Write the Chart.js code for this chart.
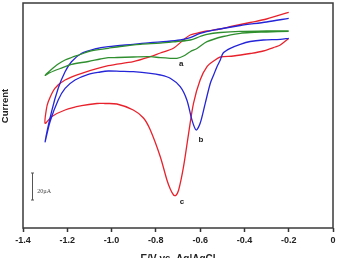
<!DOCTYPE html>
<html><head><meta charset="utf-8">
<script src="https://cdn.jsdelivr.net/npm/chart.js@4.4.1/dist/chart.umd.min.js"></script>
<style>html,body{margin:0;padding:0;background:#fff;overflow:hidden}canvas{display:block}</style>
</head><body>
<canvas id="c" width="343" height="258"></canvas>
<script>
// x axis ticks
const xTickValues = [-1.4, -1.2, -1.0, -0.8, -0.6, -0.4, -0.2, 0];
const xTickLabels = ['-1.4', '-1.2', '-1.0', '-0.8', '-0.6', '-0.4', '-0.2', '0'];

// curve a (green): potential (V) and current (arbitrary units, 20 µA ≈ 27 units)
const curveA_E = [-0.20, -0.30, -0.374, -0.419, -0.496, -0.569, -0.614, -0.645, -0.675, -0.705, -0.735, -0.780, -0.825, -0.902, -0.974, -1.015, -1.051, -1.105, -1.181, -1.232, -1.277, -1.30,
  -1.277, -1.241, -1.210, -1.181, -1.141, -1.096, -1.015, -0.961, -0.870, -0.780, -0.705, -0.645, -0.600, -0.569, -0.509, -0.419, -0.30, -0.20];
const curveA_I = [196.7, 196.0, 195.5, 194.7, 191.5, 186.3, 179.5, 176.3, 172.0, 169.7, 169.7, 170.3, 171.3, 171.0, 170.5, 170.3, 169.0, 166.5, 163.7, 159.5, 155.5, 152.7,
  157.5, 164.0, 168.0, 170.5, 173.5, 177.0, 179.7, 181.5, 183.7, 184.8, 186.5, 188.0, 191.5, 193.7, 195.5, 196.7, 197.0, 197.2];

// curve b (blue)
const curveB_E = [-0.20, -0.238, -0.315, -0.374, -0.419, -0.464, -0.496, -0.509, -0.524, -0.539, -0.554, -0.577, -0.600, -0.618, -0.637, -0.660, -0.690, -0.735, -0.780, -0.825, -0.902, -0.961, -1.015, -1.051, -1.105, -1.165, -1.210, -1.241, -1.278, -1.30,
  -1.271, -1.241, -1.210, -1.181, -1.135, -1.075, -1.015, -0.902, -0.825, -0.750, -0.690, -0.645, -0.600, -0.524, -0.419, -0.30, -0.20];
const curveB_I = [189.7, 188.7, 188.0, 186.5, 183.7, 179.7, 175.0, 168.0, 161.3, 153.0, 144.7, 124.7, 104.7, 98.0, 108.0, 128.0, 141.3, 149.7, 153.0, 154.7, 156.3, 156.7, 157.0, 156.0, 153.7, 148.0, 139.7, 128.0, 106.3, 86.3,
  116.3, 139.7, 156.3, 166.3, 174.7, 179.0, 181.3, 183.7, 185.3, 186.5, 188.0, 190.3, 194.7, 198.5, 202.5, 206.0, 209.7];

// curve c (red)
const curveC_E = [-0.20, -0.238, -0.261, -0.315, -0.374, -0.450, -0.509, -0.539, -0.569, -0.600, -0.630, -0.652, -0.675, -0.697, -0.710, -0.720, -0.735, -0.750, -0.780, -0.825, -0.856, -0.902, -0.976, -1.030, -1.066, -1.135, -1.210, -1.271, -1.30,
  -1.295, -1.286, -1.256, -1.210, -1.135, -1.015, -0.902, -0.825, -0.780, -0.721, -0.676, -0.645, -0.600, -0.569, -0.524, -0.450, -0.374, -0.30, -0.20];
const curveC_I = [189.5, 183.0, 181.0, 177.0, 174.5, 172.0, 171.0, 167.0, 161.3, 148.0, 124.7, 94.7, 61.3, 38.0, 32.5, 33.0, 39.0, 48.0, 71.3, 98.0, 110.0, 118.0, 124.0, 124.5, 124.5, 122.3, 118.0, 111.3, 104.7,
  118.0, 126.3, 139.7, 148.0, 154.7, 162.3, 166.3, 171.3, 175.0, 179.7, 188.0, 193.0, 195.5, 197.0, 198.5, 202.0, 205.5, 209.0, 215.7];

// annotations
const curveLabels = ['a', 'b', 'c'];
const labelE = [-0.685, -0.596, -0.682];
const labelI = [164, 88.7, 26.3];
const scaleBarE = -1.358;
const scaleBarI = [28, 55];
const scaleBarText = '20\u00B5A';
const scaleBarTextE = -1.336;
const scaleBarTextI = 37;
const xTitle = 'E/V vs. Ag|AgCl';
const yTitle = 'Current';

const toPts = (E, I) => E.map((e, i) => ({x: e, y: I[i]}));

const overlay = {
  id: 'overlay',
  afterDraw(chart) {
    const {ctx, chartArea: a, scales: {x, y}} = chart;
    ctx.save();
    // frame
    ctx.strokeStyle = '#3a3a3a';
    ctx.lineWidth = 1.5;
    ctx.strokeRect(a.left, a.top, a.right - a.left, a.bottom - a.top);
    // curve labels
    ctx.fillStyle = '#222';
    ctx.font = 'bold 8px "Liberation Sans", Arial, sans-serif';
    ctx.textAlign = 'center';
    ctx.textBaseline = 'middle';
    curveLabels.forEach((t, i) => ctx.fillText(t, x.getPixelForValue(labelE[i]), y.getPixelForValue(labelI[i])));
    // scale bar
    const bx = Math.round(x.getPixelForValue(scaleBarE)) + 0.5;
    const b1 = y.getPixelForValue(scaleBarI[0]);
    const b2 = y.getPixelForValue(scaleBarI[1]);
    ctx.strokeStyle = '#555';
    ctx.lineWidth = 1;
    ctx.beginPath();
    ctx.moveTo(bx, b1); ctx.lineTo(bx, b2);
    ctx.moveTo(bx - 1.5, b1); ctx.lineTo(bx + 1.5, b1);
    ctx.moveTo(bx - 1.5, b2); ctx.lineTo(bx + 1.5, b2);
    ctx.stroke();
    ctx.fillStyle = '#444';
    ctx.font = '6px "Liberation Serif", serif';
    ctx.textAlign = 'left';
    ctx.fillText(scaleBarText, x.getPixelForValue(scaleBarTextE), y.getPixelForValue(scaleBarTextI));
    // axis titles
    ctx.fillStyle = '#222';
    ctx.font = 'bold 10px "Liberation Sans", Arial, sans-serif';
    ctx.textAlign = 'center';
    ctx.textBaseline = 'alphabetic';
    ctx.fillText(xTitle, (a.left + a.right) / 2, 261.5);
    ctx.translate(5.5, 106);
    ctx.rotate(-Math.PI / 2);
    ctx.font = 'bold 9.5px "Liberation Sans", Arial, sans-serif';
    ctx.textBaseline = 'middle';
    ctx.fillText(yTitle, 0, 0);
    ctx.restore();
  }
};

const lineDs = (label, E, I, color) => ({
  label, data: toPts(E, I), showLine: true, borderColor: color, backgroundColor: color,
  borderWidth: 1.3, pointRadius: 0, tension: 0.3, fill: false
});

new Chart(document.getElementById('c'), {
  type: 'scatter',
  data: {
    datasets: [
      lineDs('a', curveA_E, curveA_I, '#2f8f2f'),
      lineDs('b', curveB_E, curveB_I, '#2424d8'),
      lineDs('c', curveC_E, curveC_I, '#e8222c')
    ]
  },
  options: {
    responsive: false,
    animation: false,
    devicePixelRatio: 1,
    layout: {padding: {left: 23, right: 10, top: 3, bottom: 0}},
    plugins: {legend: {display: false}, tooltip: {enabled: false}},
    scales: {
      x: {
        type: 'linear', min: -1.4, max: 0,
        afterFit: s => { s.height = 30; },
        afterBuildTicks: s => { s.ticks = xTickValues.map(v => ({value: v})); },
        ticks: {
          callback: (v, i) => xTickLabels[i],
          color: '#222', padding: 3, maxRotation: 0, autoSkip: false,
          font: {family: '"Liberation Sans", Arial, sans-serif', size: 9, weight: 'bold'}
        },
        grid: {display: true, drawOnChartArea: false, drawTicks: true, tickLength: 4, tickWidth: 1.5, tickColor: '#333'},
        border: {display: false}
      },
      y: {type: 'linear', min: 0, max: 225, display: false}
    }
  },
  plugins: [overlay]
});
</script>
</body></html>
